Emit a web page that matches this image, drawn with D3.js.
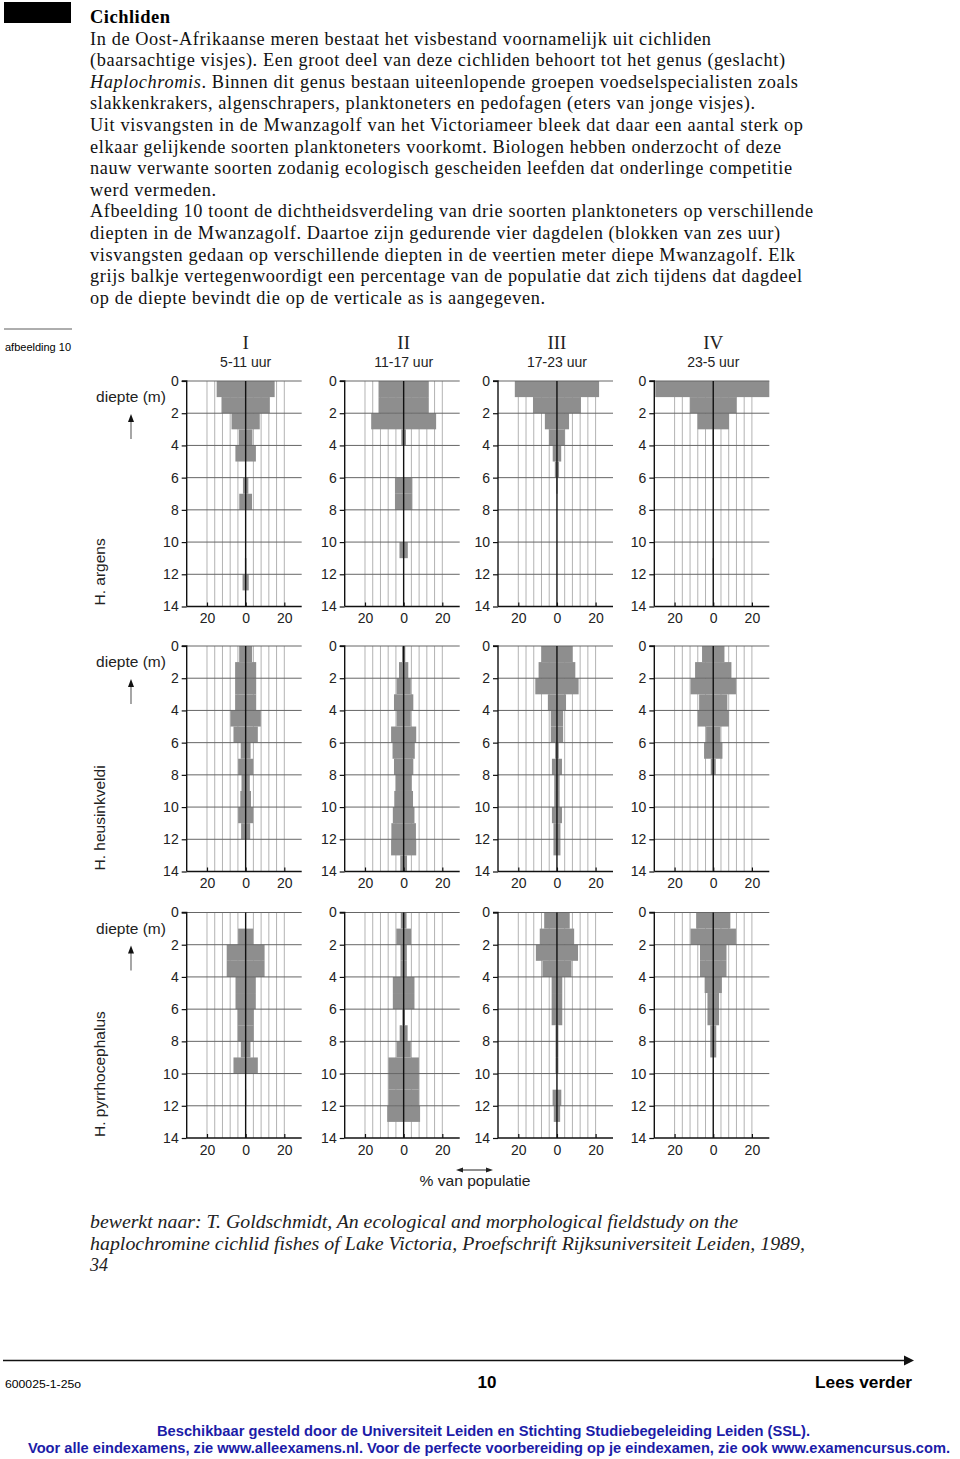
<!DOCTYPE html>
<html><head><meta charset="utf-8">
<script src="https://cdn.jsdelivr.net/npm/d3@7"></script>
<style>body{margin:0;background:#fff}</style>
</head><body>
<script>
// ---------- data ----------
const periods = ["I", "II", "III", "IV"];
const periodHours = ["5-11 uur", "11-17 uur", "17-23 uur", "23-5 uur"];
const speciesNames = ["H. argens", "H. heusinkveldi", "H. pyrrhocephalus"];
const depthTicks = [0, 2, 4, 6, 8, 10, 12, 14];
const percentTicks = [-20, 0, 20];
const percentTickLabels = ["20", "0", "20"];
const gridPercents = [-20, -16, -12, -8, -4, 4, 8, 12, 16, 20];

// percentage of population per 1 m depth band (0-1, 1-2, ..., 13-14)
const argensI   = [30, 25, 14.6, 7, 10.6, 0, 2.8, 6.6, 0, 0, 0, 0.8, 3.2, 0];
const argensII  = [26, 26, 33.6, 2.4, 0, 0, 9, 9, 0, 0, 4.3, 0, 0, 0];
const argensIII = [43.6, 24.8, 12.5, 8.2, 4.4, 2.2, 0.6, 0, 0, 0, 0, 0, 0, 0];
const argensIV  = [60, 24, 16.3, 0.6, 0, 0, 0, 0, 0, 0, 0, 0.6, 0, 0];

const heusI   = [6.7, 10.9, 10.9, 10.9, 15.7, 12.6, 5.1, 7.8, 4.3, 5.5, 7.8, 4.7, 0, 0];
const heusII  = [1.7, 4.8, 7.4, 10, 7.4, 13, 11.5, 10, 8.2, 9.7, 11.2, 12.7, 13, 3.5];
const heusIII = [16, 19, 22.4, 9.4, 6.4, 6.4, 1.9, 5.2, 2.8, 2.8, 5.2, 3.6, 3.6, 0];
const heusIV  = [11.6, 18.8, 23.5, 14.6, 16.2, 7.4, 9.5, 2.6, 0, 0, 0, 0, 0, 0];

const pyrrI   = [0, 7.8, 19.6, 19.6, 10.5, 10.5, 8.3, 8.3, 5, 12.6, 0, 0.6, 0, 0];
const pyrrII  = [3, 7.6, 3.3, 3.3, 11.2, 11.2, 1.4, 4.1, 7.4, 15.8, 15.8, 15.8, 17, 0];
const pyrrIII = [13.2, 17.8, 21.8, 15.1, 5.5, 5.5, 5.5, 1.5, 1.5, 1.5, 0, 4.5, 3.3, 0];
const pyrrIV  = [17.7, 23.5, 13.7, 13.7, 8.9, 6, 6, 3.1, 3.1, 0, 0, 0, 0, 0];

const speciesData = [
  [argensI, argensII, argensIII, argensIV],
  [heusI, heusII, heusIII, heusIV],
  [pyrrI, pyrrII, pyrrIII, pyrrIV]
];

const introTitle = "Cichliden";
const introLines = [
  "In de Oost-Afrikaanse meren bestaat het visbestand voornamelijk uit cichliden",
  "(baarsachtige visjes). Een groot deel van deze cichliden behoort tot het genus (geslacht)",
  null, // Haplochromis line (mixed italic)
  "slakkenkrakers, algenschrapers, planktoneters en pedofagen (eters van jonge visjes).",
  "Uit visvangsten in de Mwanzagolf van het Victoriameer bleek dat daar een aantal sterk op",
  "elkaar gelijkende soorten planktoneters voorkomt. Biologen hebben onderzocht of deze",
  "nauw verwante soorten zodanig ecologisch gescheiden leefden dat onderlinge competitie",
  "werd vermeden.",
  "Afbeelding 10 toont de dichtheidsverdeling van drie soorten planktoneters op verschillende",
  "diepten in de Mwanzagolf. Daartoe zijn gedurende vier dagdelen (blokken van zes uur)",
  "visvangsten gedaan op verschillende diepten in de veertien meter diepe Mwanzagolf. Elk",
  "grijs balkje vertegenwoordigt een percentage van de populatie dat zich tijdens dat dagdeel",
  "op de diepte bevindt die op de verticale as is aangegeven."
];
// text widths of the typeset lines in the source page
const introWidths = [621, 695, 708, 665, 713, 691, 702, 126, 723, 690, 705, 712, 455];
const captionLines = [
  "bewerkt naar: T. Goldschmidt, An ecological and morphological fieldstudy on the",
  "haplochromine cichlid fishes of Lake Victoria, Proefschrift Rijksuniversiteit Leiden, 1989,",
  "34"
];
const captionWidths = [648, 715, 18];

// ---------- layout ----------
const W = 960, H = 1459;
const serif = "'Liberation Serif','Times New Roman',serif";
const sans = "'Liberation Sans',Arial,Helvetica,sans-serif";
const narrow = "'Liberation Sans Narrow','Arial Narrow','Liberation Sans',sans-serif";

const svg = d3.select("body").append("svg")
  .attr("width", W).attr("height", H).attr("viewBox", `0 0 ${W} ${H}`);

// header
svg.append("rect").attr("x", 4).attr("y", 2).attr("width", 67).attr("height", 21).attr("fill", "#000");
const tx = 90, t0 = 23, lh = 21.6;
svg.append("text").attr("x", tx).attr("y", t0).attr("font-family", serif)
  .attr("font-size", 18.5).attr("font-weight", "bold").attr("textLength", 80).attr("lengthAdjust", "spacing").text(introTitle);
introLines.forEach((s, i) => {
  const t = svg.append("text").attr("x", tx).attr("y", t0 + lh * (i + 1))
    .attr("font-family", serif).attr("font-size", 18.3).attr("fill", "#111")
    .attr("textLength", introWidths[i]).attr("lengthAdjust", "spacing");
  if (s === null) {
    t.append("tspan").attr("font-style", "italic").text("Haplochromis");
    t.append("tspan").text(". Binnen dit genus bestaan uiteenlopende groepen voedselspecialisten zoals");
  } else t.text(s);
});

// figure label
svg.append("line").attr("x1", 4).attr("x2", 72).attr("y1", 329).attr("y2", 329)
  .attr("stroke", "#333").attr("stroke-width", 0.8);
svg.append("text").attr("x", 5).attr("y", 351).attr("font-family", sans)
  .attr("font-size", 11).attr("textLength", 66).attr("lengthAdjust", "spacingAndGlyphs").text("afbeelding 10");

// panels
const panelLeft = [186.7, 344.7, 498, 654.3];
const panelTop = [381, 646, 912.5];
const panelW = 115, panelH = 225.5;

const gray = "#8e8e8e";

speciesData.forEach((row, r) => {
  const top = panelTop[r];
  const y = d3.scaleLinear().domain([0, 14]).range([top, top + panelH]);

  // row labels
  svg.append("text").attr("x", 131).attr("y", y(1) + 5).attr("text-anchor", "middle")
    .attr("font-family", sans).attr("font-size", 15.5).attr("fill", "#222").text("diepte (m)");
  svg.append("line").attr("x1", 131).attr("x2", 131).attr("y1", y(3.6)).attr("y2", y(2.4))
    .attr("stroke", "#777").attr("stroke-width", 1.3);
  svg.append("path").attr("d", `M131,${y(2.05)} l-3,8 l6,0 z`).attr("fill", "#111");
  svg.append("text").attr("transform", `translate(105,${y(14) - 1}) rotate(-90)`)
    .attr("font-family", sans).attr("font-size", 15.5).attr("fill", "#222").text(speciesNames[r]);

  row.forEach((vals, c) => {
    const left = panelLeft[c];
    const x = d3.scaleLinear().domain([-30.5, 29]).range([left, left + panelW]).clamp(true);
    const g = svg.append("g");

    // vertical grid
    g.selectAll(".vg").data(gridPercents).join("line")
      .attr("x1", d => x(d)).attr("x2", d => x(d)).attr("y1", y(0)).attr("y2", y(14))
      .attr("stroke", "#b3b3b3").attr("stroke-width", 1);

    // bars
    g.selectAll(".bar").data(vals.map((v, i) => ({ v, i })).filter(d => d.v > 0)).join("rect")
      .attr("x", d => x(-d.v / 2)).attr("width", d => x(d.v / 2) - x(-d.v / 2))
      .attr("y", d => y(d.i)).attr("height", d => y(d.i + 1) - y(d.i))
      .attr("fill", gray);

    // horizontal grid
    g.selectAll(".hg").data(depthTicks.slice(0, -1)).join("line")
      .attr("x1", left).attr("x2", left + panelW).attr("y1", d => y(d)).attr("y2", d => y(d))
      .attr("stroke", "#666").attr("stroke-width", 1);

    // center line
    g.append("line").attr("x1", x(0)).attr("x2", x(0)).attr("y1", y(0)).attr("y2", y(14))
      .attr("stroke", "#111").attr("stroke-width", 1.4);

    // y axis
    const ya = d3.axisLeft(y).tickValues(depthTicks).tickSize(5).tickPadding(3).tickFormat(d3.format("d"));
    const yg = svg.append("g").attr("transform", `translate(${left},0)`).call(ya);
    yg.select(".domain").attr("stroke", "#111").attr("stroke-width", 1.4).attr("d", `M-5,${y(0)}H0V${y(14)}`);
    yg.selectAll(".tick line").attr("stroke", "#111").attr("stroke-width", 1.2);
    yg.selectAll("text").attr("font-family", sans).attr("font-size", 14).attr("fill", "#222");

    // x axis
    const xa = d3.axisBottom(x).tickValues(percentTicks).tickSize(-4).tickPadding(7)
      .tickFormat((d, i) => percentTickLabels[i]);
    const xg = svg.append("g").attr("transform", `translate(0,${y(14)})`).call(xa);
    xg.select(".domain").attr("stroke", "#111").attr("stroke-width", 1.4).attr("d", `M${left},0H${left + panelW}`);
    xg.selectAll(".tick line").attr("stroke", "#111").attr("stroke-width", 1.2);
    xg.selectAll("text").attr("font-family", sans).attr("font-size", 14).attr("fill", "#222");

    // headers
    if (r === 0) {
      svg.append("text").attr("x", x(0)).attr("y", 348.5).attr("text-anchor", "middle")
        .attr("font-family", serif).attr("font-size", 19).attr("fill", "#222").text(periods[c]);
      svg.append("text").attr("x", x(0)).attr("y", 367).attr("text-anchor", "middle")
        .attr("font-family", sans).attr("font-size", 14).attr("fill", "#222").text(periodHours[c]);
    }
  });
});

// % van populatie
svg.append("line").attr("x1", 460).attr("x2", 489).attr("y1", 1170).attr("y2", 1170)
  .attr("stroke", "#222").attr("stroke-width", 1);
svg.append("path").attr("d", "M456,1170 l7,-2.5 l0,5 z M493,1170 l-7,-2.5 l0,5 z").attr("fill", "#222");
svg.append("text").attr("x", 475).attr("y", 1186).attr("text-anchor", "middle")
  .attr("font-family", narrow).attr("font-size", 15).attr("fill", "#222")
  .attr("textLength", 111).attr("lengthAdjust", "spacingAndGlyphs").text("% van populatie");

// caption
captionLines.forEach((s, i) => {
  svg.append("text").attr("x", 90).attr("y", 1228 + i * 21.6)
    .attr("font-family", serif).attr("font-style", "italic").attr("font-size", 19).attr("fill", "#222")
    .attr("textLength", captionWidths[i]).attr("lengthAdjust", "spacingAndGlyphs").text(s);
});

// footer
svg.append("line").attr("x1", 3).attr("x2", 906).attr("y1", 1360.5).attr("y2", 1360.5)
  .attr("stroke", "#111").attr("stroke-width", 1.5);
svg.append("path").attr("d", "M914,1360.5 l-10,-5 l0,10 z").attr("fill", "#111");
svg.append("text").attr("x", 5).attr("y", 1388).attr("font-family", narrow).attr("font-size", 11)
  .attr("textLength", 76).attr("lengthAdjust", "spacingAndGlyphs").text("600025-1-25o");
svg.append("text").attr("x", 487).attr("y", 1388).attr("text-anchor", "middle").attr("font-family", narrow)
  .attr("font-size", 17).attr("font-weight", "bold").text("10");
svg.append("text").attr("x", 912).attr("y", 1388).attr("text-anchor", "end").attr("font-family", narrow)
  .attr("font-size", 17).attr("font-weight", "bold").attr("textLength", 97).attr("lengthAdjust", "spacingAndGlyphs").text("Lees verder");
svg.append("text").attr("x", 157).attr("y", 1436).attr("font-family", narrow)
  .attr("font-size", 15).attr("font-weight", "bold").attr("fill", "#1c1ca8")
  .attr("textLength", 653).attr("lengthAdjust", "spacingAndGlyphs")
  .text("Beschikbaar gesteld door de Universiteit Leiden en Stichting Studiebegeleiding Leiden (SSL).");
svg.append("text").attr("x", 28).attr("y", 1453).attr("font-family", narrow)
  .attr("font-size", 14.5).attr("font-weight", "bold").attr("fill", "#1c1ca8")
  .attr("textLength", 922).attr("lengthAdjust", "spacingAndGlyphs")
  .text("Voor alle eindexamens, zie www.alleexamens.nl. Voor de perfecte voorbereiding op je eindexamen, zie ook www.examencursus.com.");
</script>
</body></html>
